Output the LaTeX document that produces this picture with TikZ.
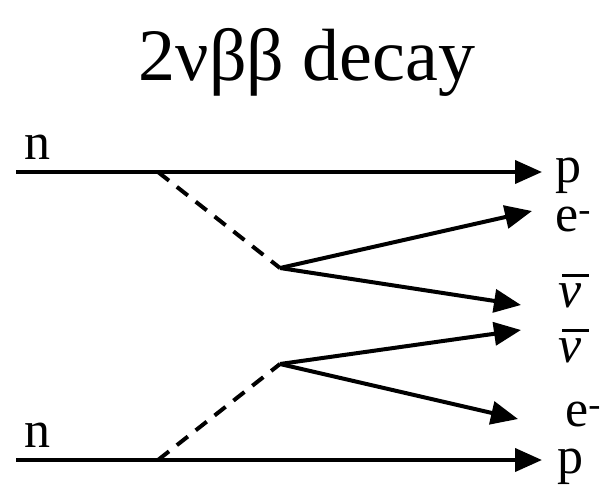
\documentclass[tikz,border=0pt]{standalone}
\usepackage{fontspec}
\setmainfont{Liberation Serif}
\usetikzlibrary{arrows.meta}
\tikzset{
  particle/.style={line width=4pt, -{Triangle[length=27pt,width=23pt]}},
  wboson/.style={line width=4pt, dash pattern=on 14pt off 10pt},
  lbl/.style={anchor=base west, inner sep=0pt, font=\fontsize{52}{52}\selectfont}
}
\newcommand{\antinu}{\rlap{\kern4pt\raisebox{30pt}{\rule{27pt}{3pt}}}\textit{ν}}
\begin{document}
\begin{tikzpicture}[x=1pt,y=-1pt]
            \useasboundingbox (0,0) rectangle (603,491);

            % Titulo
            \node[anchor=base, inner sep=0pt, font=\fontsize{74}{74}\selectfont] (title) at (307,80) {2νββ decay};

            % Puntos de la linea de neutrones y vertices
            \coordinate (n1) at (16,172);
            \coordinate (w1) at (158,172);
            \coordinate (v1) at (280,268);
            \coordinate (n2) at (16,460);
            \coordinate (w2) at (158,460);
            \coordinate (v2) at (280,364);

            % Extremos de las flechas
            \coordinate (p1) at (542,172);
            \coordinate (e1) at (532,211);
            \coordinate (nu1) at (521,305);
            \coordinate (nu2) at (521,330);
            \coordinate (e2) at (518,419);
            \coordinate (p2) at (542,460);

            % Neutron -> proton
            \draw[particle] (n1) -- (p1);
            \draw[particle] (n2) -- (p2);

            % Bosones W (discontinuos)
            \draw[wboson] (w1) -- (v1);
            \draw[wboson] (w2) -- (v2);

            % Electrones y antineutrinos
            \draw[particle] (v1) -- (e1);
            \draw[particle] (v1) -- (nu1);
            \draw[particle] (v2) -- (nu2);
            \draw[particle] (v2) -- (e2);

            % Etiquetas
            \node[lbl] (ln1) at (24,159) {n};
            \node[lbl] (ln2) at (24,447) {n};
            \node[lbl] (lp1) at (555,182) {p};
            \node[lbl] (lp2) at (557,473) {p};
            \node[lbl] (le1) at (555,231) {e\textsuperscript{-}};
            \node[lbl] (le2) at (565,426) {e\textsuperscript{-}};
            \node[lbl] (lnu1) at (558,307) {\antinu};
            \node[lbl] (lnu2) at (558,362) {\antinu};
\end{tikzpicture}
\end{document}
